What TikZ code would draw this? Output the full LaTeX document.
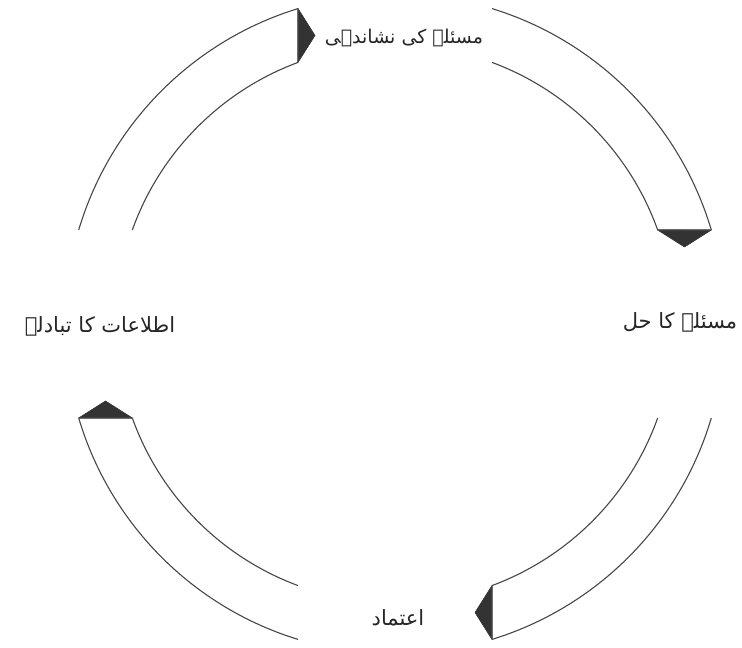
\documentclass[tikz,border=0pt]{standalone}
\usepackage{fontspec}
\usetikzlibrary{calc}
\newfontfamily\urdu[Script=Arabic]{DejaVu Sans}
\TeXXeTstate=1
\begin{document}
\begin{tikzpicture}[x=1pt,y=1pt,
  arcline/.style={draw=black!72,line width=1.1pt},
  tipfill/.style={fill=black!80,draw=black!80,line width=0.6pt,line join=round},
  cutline/.style={draw=black!72,line width=1.1pt},
  lbl/.style={font=\urdu\fontsize{21}{24}\selectfont,inner sep=0pt,text=black!85},
  lblsmall/.style={lbl,font=\urdu\fontsize{19}{22}\selectfont}]
\useasboundingbox (0,0) rectangle (742,648);
\fill[white] (0,0) rectangle (742,648);
\coordinate (c) at (395,324);
% band 1: top-left
\draw[arcline] (c) ++(163.45:330) arc[start angle=163.45,end angle=107.09,radius=330];
\draw[arcline] (c) ++(160.31:279) arc[start angle=160.31,end angle=110.34,radius=279];
\coordinate (a1) at ($(c)+(107.09:330)$);
\coordinate (b1) at ($(c)+(110.34:279)$);
\coordinate (t1) at (315,612.5);
\fill[tipfill] (a1) -- (t1) -- (b1) -- cycle;
\draw[cutline] (a1) -- (b1);
% band 2: top-right
\draw[arcline] (c) ++(72.91:330) arc[start angle=72.91,end angle=16.55,radius=330];
\draw[arcline] (c) ++(69.66:279) arc[start angle=69.66,end angle=19.69,radius=279];
\coordinate (a2) at ($(c)+(16.55:330)$);
\coordinate (b2) at ($(c)+(19.69:279)$);
\coordinate (t2) at (684.5,401);
\fill[tipfill] (a2) -- (t2) -- (b2) -- cycle;
\draw[cutline] (a2) -- (b2);
% band 3: bottom-right
\draw[arcline] (c) ++(-16.55:330) arc[start angle=-16.55,end angle=-72.91,radius=330];
\draw[arcline] (c) ++(-19.69:279) arc[start angle=-19.69,end angle=-69.66,radius=279];
\coordinate (a3) at ($(c)+(-72.91:330)$);
\coordinate (b3) at ($(c)+(-69.66:279)$);
\coordinate (t3) at (475,35.5);
\fill[tipfill] (a3) -- (t3) -- (b3) -- cycle;
\draw[cutline] (a3) -- (b3);
% band 4: bottom-left
\draw[arcline] (c) ++(-107.09:330) arc[start angle=-107.09,end angle=-163.45,radius=330];
\draw[arcline] (c) ++(-110.34:279) arc[start angle=-110.34,end angle=-160.31,radius=279];
\coordinate (a4) at ($(c)+(-163.45:330)$);
\coordinate (b4) at ($(c)+(-160.31:279)$);
\coordinate (t4) at (105.5,247);
\fill[tipfill] (a4) -- (t4) -- (b4) -- cycle;
\draw[cutline] (a4) -- (b4);
% labels
\node[lblsmall] (top) at (404,610) {\beginR مسئلے کی نشاندہی\endR};
\node[lbl] (right) at (680,326) {\beginR مسئلے کا حل\endR};
\node[lbl] (bottom) at (398,30) {\beginR اعتماد\endR};
\node[lbl] (left) at (100,322) {\beginR اطلاعات کا تبادلہ\endR};
\end{tikzpicture}
\end{document}
